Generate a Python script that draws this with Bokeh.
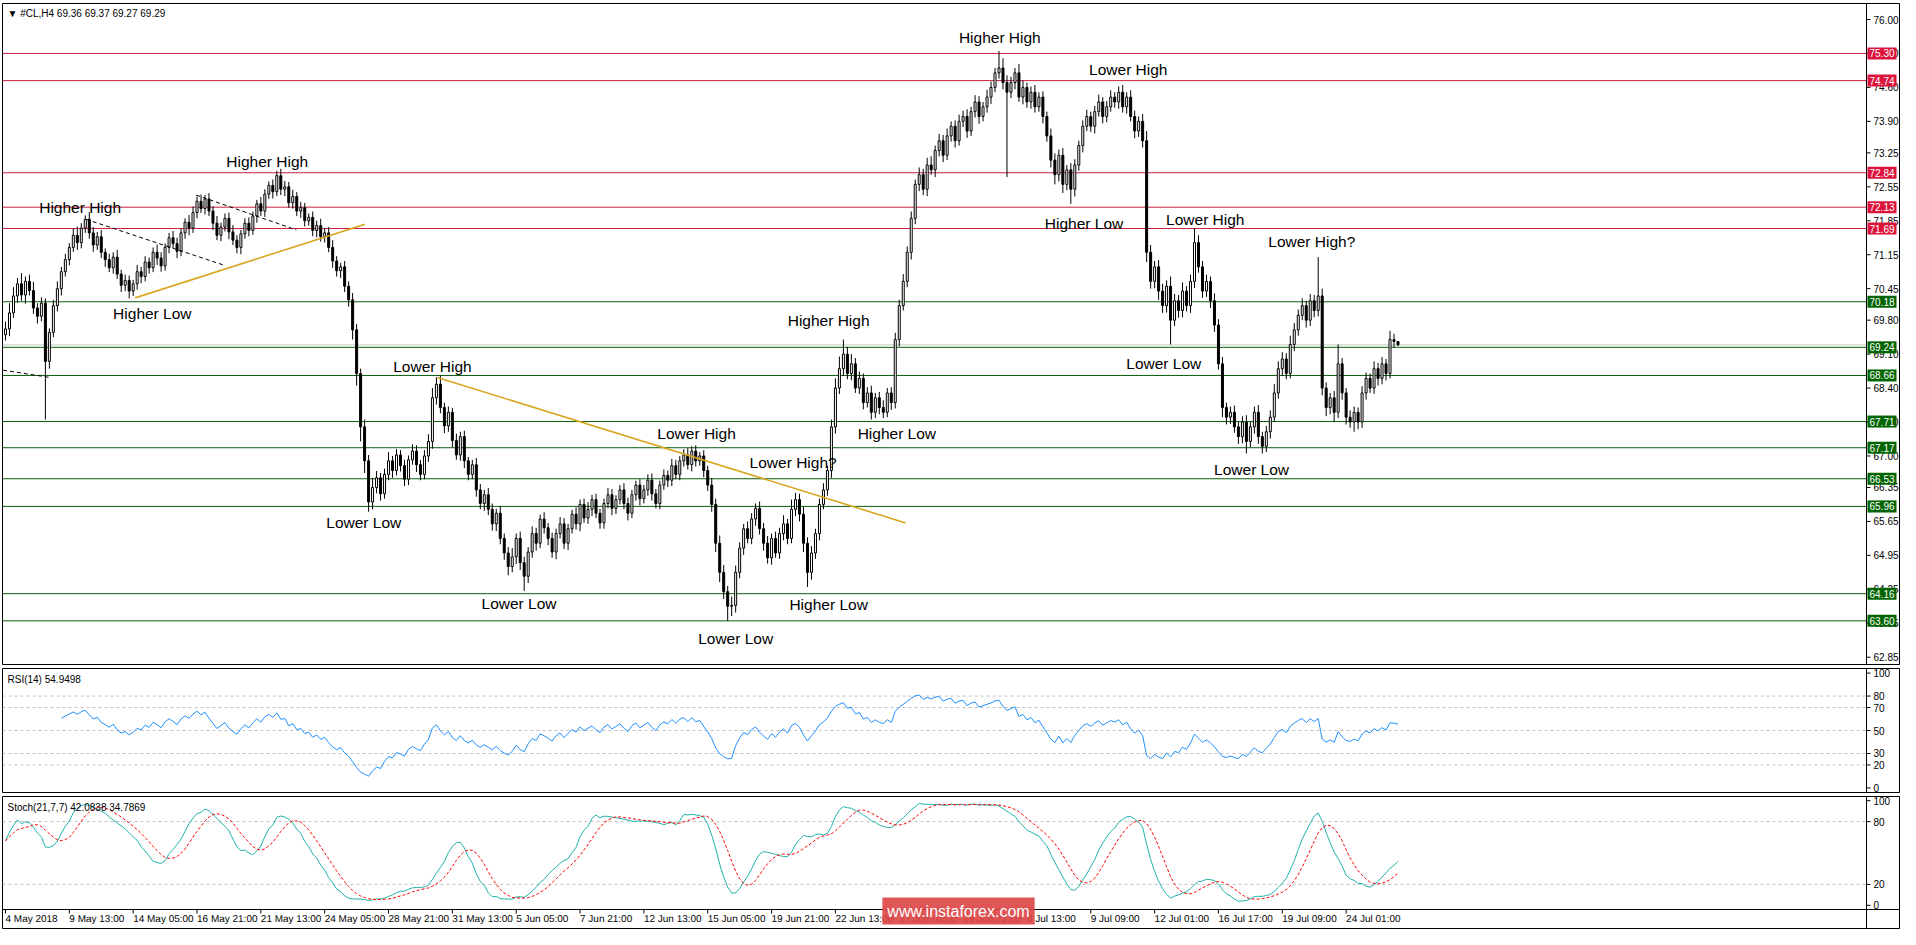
import numpy as np
import pandas as pd
from bokeh.plotting import figure
from bokeh.layouts import column
from bokeh.models import (ColumnDataSource, Label, FixedTicker, Range1d, Span,
                          NumeralTickFormatter)
from bokeh.core.properties import value
from bokeh.embed import file_html
from bokeh.resources import INLINE

# ---------------- data ----------------
first_open = 69.50
close = [
    69.62, 69.95, 70.30, 70.55, 70.32, 70.60, 70.41, 70.05, 69.88, 70.15,
    68.95, 69.55, 70.10, 70.45, 70.80, 71.05, 71.30, 71.55, 71.40, 71.70,
    71.88, 71.60, 71.35, 71.52, 71.20, 71.05, 70.88, 71.10, 70.75, 70.52,
    70.62, 70.40, 70.55, 70.80, 70.70, 71.00, 70.88, 71.20, 71.08, 70.92,
    71.30, 71.50, 71.38, 71.22, 71.60, 71.82, 71.70, 72.02, 72.25, 72.10,
    72.30, 72.05, 71.80, 71.55, 71.72, 71.90, 71.62, 71.45, 71.30, 71.58,
    71.80, 71.65, 71.95, 72.20, 72.05, 72.40, 72.58, 72.45, 72.78, 72.50,
    72.55, 72.22, 72.35, 72.05, 72.12, 71.85, 71.92, 71.65, 71.75, 71.52,
    71.60, 71.30, 71.02, 70.82, 70.90, 70.50, 70.22, 69.60, 68.70, 67.60,
    66.90, 66.05, 66.35, 66.55, 66.22, 66.62, 66.90, 66.70, 67.02, 66.80,
    66.52, 66.92, 67.10, 66.82, 66.62, 67.00, 67.30, 68.20, 68.48, 68.00,
    67.62, 67.90, 67.32, 67.02, 67.40, 66.90, 66.62, 66.82, 66.30, 66.02,
    66.20, 65.90, 65.60, 65.82, 65.30, 65.00, 64.72, 64.92, 65.30, 64.80,
    64.52, 65.02, 65.40, 65.20, 65.70, 65.52, 65.30, 65.02, 65.40, 65.60,
    65.20, 65.50, 65.80, 65.60, 66.00, 65.72, 65.90, 66.10, 65.82, 65.62,
    66.02, 66.20, 65.92, 66.10, 66.30, 66.02, 65.82, 66.20, 66.40, 66.12,
    66.30, 66.50, 66.22, 66.02, 66.40, 66.60, 66.50, 66.80, 66.62, 66.90,
    67.02, 66.82, 67.10, 66.90, 67.00, 66.70, 66.40, 66.00, 65.20, 64.60,
    64.20, 63.90, 63.92, 64.60, 65.10, 65.50, 65.30, 65.70, 65.92, 65.50,
    65.20, 64.90, 65.30, 65.00, 65.40, 65.60, 65.30, 65.90, 66.10, 65.80,
    65.20, 64.60, 65.00, 65.40, 66.00, 66.30, 66.70, 67.60, 68.40, 68.80,
    69.10, 68.70, 68.90, 68.40, 68.60, 68.10, 68.30, 67.90, 68.20, 68.00,
    67.90, 68.30, 68.10, 69.40, 70.10, 70.60, 71.20, 71.90, 72.60, 72.80,
    72.50, 73.00, 72.90, 73.30, 73.50, 73.20, 73.60, 73.80, 73.50, 73.90,
    74.00, 73.70, 74.10, 74.30, 74.00, 74.20, 74.40, 74.60, 74.90, 75.00,
    74.70, 74.50, 74.70, 74.90, 74.40, 74.60, 74.30, 74.50, 74.20, 74.40,
    74.00, 73.60, 73.10, 72.80, 73.20, 72.60, 72.90, 72.50, 73.00, 73.40,
    73.80, 74.00, 73.80, 74.10, 74.30, 74.00, 74.20, 74.40, 74.30, 74.50,
    74.20, 74.40, 74.00, 73.70, 73.90, 73.50, 71.20, 70.60, 70.90, 70.40,
    70.10, 70.50, 69.80, 70.20, 70.00, 70.40, 70.10, 70.60, 71.40, 70.90,
    70.40, 70.60, 70.20, 69.70, 68.90, 68.00, 67.80, 67.90, 67.60, 67.40,
    67.70, 67.30, 67.60, 67.90, 67.40, 67.20, 67.50, 67.80, 68.30, 68.80,
    69.00, 68.70, 69.30, 69.60, 69.90, 70.10, 69.80, 70.20, 70.00, 70.30,
    68.40, 68.00, 68.20, 67.90, 68.90, 68.30, 67.80, 67.70, 67.90, 67.70,
    68.30, 68.60, 68.40, 68.80, 68.60, 68.90, 68.70, 69.40, 69.36, 69.29,
]
# upper / lower wick lengths, in cents
wick_up = [
    15, 20, 18, 12, 22, 10, 14, 18, 10, 12,
    10, 8, 12, 15, 10, 12, 9, 14, 18, 10,
    8, 15, 12, 10, 14, 8, 12, 10, 15, 9,
    12, 10, 8, 14, 10, 12, 9, 10, 16, 12,
    8, 10, 14, 12, 9, 8, 15, 12, 10, 14,
    8, 12, 10, 15, 9, 10, 12, 14, 10, 8,
    10, 12, 9, 8, 14, 10, 8, 12, 10, 14,
    12, 10, 14, 9, 12, 10, 8, 12, 10, 14,
    10, 12, 15, 10, 8, 12, 10, 14, 12, 10,
    15, 12, 20, 14, 10, 12, 18, 10, 12, 10,
    12, 9, 14, 12, 10, 12, 15, 20, 14, 18,
    10, 12, 9, 14, 10, 12, 8, 10, 14, 12,
    10, 14, 12, 9, 15, 10, 12, 18, 10, 14,
    12, 10, 15, 12, 9, 14, 10, 12, 10, 14,
    12, 10, 9, 14, 10, 12, 15, 10, 12, 9,
    10, 14, 12, 9, 10, 14, 12, 10, 9, 12,
    10, 12, 14, 10, 9, 12, 10, 14, 12, 10,
    12, 14, 10, 12, 8, 12, 10, 14, 12, 16,
    15, 12, 18, 14, 12, 10, 15, 12, 10, 14,
    12, 15, 10, 14, 12, 18, 10, 20, 14, 12,
    15, 12, 14, 10, 12, 14, 10, 15, 20, 25,
    30, 15, 20, 12, 14, 10, 12, 15, 10, 12,
    15, 10, 12, 14, 12, 15, 12, 14, 10, 15,
    12, 15, 18, 10, 14, 12, 15, 10, 12, 14,
    12, 15, 10, 14, 12, 10, 15, 12, 10, 35,
    20, 15, 12, 10, 18, 14, 10, 12, 15, 10,
    12, 10, 15, 14, 12, 15, 10, 14, 12, 10,
    12, 14, 10, 12, 15, 10, 12, 14, 10, 12,
    15, 10, 14, 12, 10, 15, 20, 15, 12, 14,
    15, 12, 20, 14, 12, 18, 10, 14, 30, 15,
    12, 14, 10, 15, 12, 14, 10, 12, 14, 10,
    12, 14, 10, 12, 15, 10, 12, 14, 18, 15,
    14, 12, 18, 14, 12, 15, 10, 14, 12, 80,
    15, 12, 10, 14, 40, 12, 10, 14, 12, 10,
    14, 12, 10, 15, 12, 14, 10, 18, 12, 1,
]
wick_dn = [
    12, 15, 10, 14, 12, 18, 10, 12, 15, 10,
    120, 15, 10, 12, 14, 10, 12, 9, 15, 12,
    10, 12, 14, 10, 12, 15, 9, 12, 10, 14,
    12, 15, 10, 12, 14, 10, 12, 9, 14, 12,
    10, 12, 9, 14, 10, 12, 15, 10, 12, 9,
    12, 10, 14, 10, 12, 9, 15, 10, 12, 14,
    10, 12, 9, 14, 10, 12, 10, 14, 9, 12,
    14, 10, 12, 10, 14, 12, 10, 12, 14, 10,
    12, 10, 14, 12, 15, 12, 14, 20, 25, 30,
    25, 20, 15, 12, 14, 10, 12, 15, 10, 12,
    14, 12, 10, 15, 12, 10, 12, 15, 14, 12,
    15, 12, 14, 10, 12, 15, 12, 10, 14, 12,
    15, 12, 14, 15, 12, 14, 18, 12, 15, 15,
    30, 14, 12, 15, 10, 12, 14, 12, 15, 10,
    12, 14, 10, 12, 15, 10, 12, 14, 10, 12,
    12, 10, 14, 12, 10, 12, 15, 10, 12, 14,
    10, 12, 14, 10, 12, 10, 14, 12, 10, 12,
    12, 10, 14, 12, 10, 14, 12, 15, 18, 20,
    15, 30, 20, 15, 12, 14, 10, 12, 14, 12,
    15, 12, 14, 10, 12, 14, 12, 10, 14, 15,
    18, 30, 15, 12, 14, 10, 12, 15, 14, 12,
    15, 12, 14, 10, 12, 14, 10, 15, 12, 14,
    12, 10, 15, 12, 14, 10, 12, 15, 12, 14,
    12, 14, 10, 15, 12, 14, 10, 12, 14, 10,
    12, 14, 10, 12, 15, 10, 12, 14, 10, 12,
    14, 175, 12, 14, 10, 15, 12, 14, 12, 10,
    14, 12, 15, 20, 14, 18, 12, 30, 15, 12,
    14, 10, 12, 15, 10, 14, 12, 10, 12, 14,
    12, 14, 10, 15, 12, 14, 20, 15, 14, 18,
    15, 14, 50, 12, 15, 14, 12, 15, 14, 12,
    14, 12, 15, 14, 12, 20, 15, 14, 12, 15,
    14, 25, 12, 14, 15, 15, 12, 14, 10, 12,
    14, 12, 10, 14, 12, 10, 15, 12, 14, 12,
    15, 18, 14, 20, 12, 14, 15, 12, 20, 15,
    12, 14, 10, 12, 15, 12, 14, 10, 12, 2,
]

time_labels = ["4 May 2018", "9 May 13:00", "14 May 05:00", "16 May 21:00",
               "21 May 13:00", "24 May 05:00", "28 May 21:00", "31 May 13:00",
               "5 Jun 05:00", "7 Jun 21:00", "12 Jun 13:00", "15 Jun 05:00",
               "19 Jun 21:00", "22 Jun 13:00", "27 Jun 05:00", "29 Jun 21:00",
               "4 Jul 13:00", "9 Jul 09:00", "12 Jul 01:00", "16 Jul 17:00",
               "19 Jul 09:00", "24 Jul 01:00"]
label_every = 16

price_ticks = [76.00, 75.30, 74.60, 73.90, 73.25, 72.55, 71.85, 71.15, 70.45,
               69.80, 69.10, 68.40, 67.70, 67.00, 66.35, 65.65, 64.95, 64.25,
               63.55, 62.85]
red_levels = [75.30, 74.74, 72.84, 72.13, 71.69]
green_levels = [70.18, 69.24, 68.66, 67.71, 67.17, 66.53, 65.96, 64.16, 63.60]
bid_price = 69.29

ann_text = ["Higher High", "Lower High", "Higher High", "Higher High",
            "Higher Low", "Lower High", "Lower High?", "Higher Low",
            "Higher High", "Lower Low", "Lower High", "Higher Low",
            "Lower High", "Lower High?", "Lower Low", "Lower Low",
            "Lower Low", "Higher Low", "Lower Low"]
ann_bar = [249.2, 281.4, 65.6, 18.7, 270.3, 300.7, 327.4, 36.8, 206.3, 290.3,
           107.0, 223.4, 173.2, 197.4, 312.3, 89.8, 128.7, 206.3, 183.0]
ann_price = [75.62, 74.96, 73.07, 72.13, 71.79, 71.88, 71.42, 69.94, 69.80,
             68.91, 68.84, 67.46, 67.46, 66.87, 66.73, 65.62, 63.95, 63.93,
             63.24]

trend_bar0 = [32.5, 108.2]
trend_price0 = [70.26, 68.62]
trend_bar1 = [90.1, 225.6]
trend_price1 = [71.78, 65.62]
dash_bar0 = [20.2, 47.8, -0.6]
dash_price0 = [71.88, 72.38, 68.77]
dash_bar1 = [54.9, 72.9, 11.0]
dash_price1 = [70.93, 71.66, 68.62]

rsi_ticks = [0, 20, 30, 50, 70, 80, 100]
rsi_levels = [80, 70, 50, 30, 20]
stoch_ticks = [0, 20, 80, 100]
stoch_levels = [80, 20]

# ---------------- derived series ----------------
n = len(close)
xs = list(range(n))
opens = [first_open] + close[:-1]
highs = [max(o, c) + u / 100 for o, c, u in zip(opens, close, wick_up)]
lows = [min(o, c) - d / 100 for o, c, d in zip(opens, close, wick_dn)]

cs = pd.Series(close, dtype=float)
delta = cs.diff()
gain = delta.clip(lower=0)
loss = (-delta).clip(lower=0)
period = 14
ag = np.full(n, np.nan)
al = np.full(n, np.nan)
ag[period] = gain.iloc[1:period + 1].mean()
al[period] = loss.iloc[1:period + 1].mean()
for i in range(period + 1, n):
    ag[i] = (ag[i - 1] * (period - 1) + gain.iloc[i]) / period
    al[i] = (al[i - 1] * (period - 1) + loss.iloc[i]) / period
rsi = 100 - 100 / (1 + ag / al)

hs = pd.Series(highs)
ls = pd.Series(lows)
hh = hs.rolling(21, min_periods=1).max()
ll = ls.rolling(21, min_periods=1).min()
num = (cs - ll).rolling(7, min_periods=1).sum()
den = (hh - ll).rolling(7, min_periods=1).sum()
stk = 100 * num / den
std = stk.rolling(7, min_periods=1).mean()

# ---------------- layout constants ----------------
FW = 1898                 # frame holds chart + price-scale column
PX = 3.99                 # pixels per bar
X0 = -0.75
AXIS_PX = 1864            # price scale line, px from frame left
AXIS_X = X0 + AXIS_PX / PX
LABEL_GAP = 7             # px from scale line to label start
FONT = "Liberation Sans"

src = ColumnDataSource(dict(
    x=xs, high=highs, low=lows,
    top=[max(o, c) for o, c in zip(opens, close)],
    bottom=[min(o, c) for o, c in zip(opens, close)],
    fill=["white" if c >= o else "black" for o, c in zip(opens, close)],
))

x_range = Range1d(X0, X0 + FW / PX)


def base_fig(fh, yr, top, bottom, xaxis):
    f = figure(frame_width=FW, frame_height=fh, x_range=x_range, y_range=yr,
               x_axis_location=("below" if xaxis else None),
               y_axis_location="right", toolbar_location=None,
               output_backend="svg", min_border_left=2, min_border_right=0,
               min_border_top=top, min_border_bottom=bottom)
    f.xgrid.visible = False
    f.ygrid.visible = False
    f.outline_line_color = "black"
    f.outline_line_width = 1
    f.outline_line_alpha = 1
    f.background_fill_color = "white"
    f.border_fill_color = "white"
    return f


def price_scale(f, ticks, label_w, fmt=None):
    # real axis whose labels sit in the price-scale column inside the frame
    ax = f.yaxis[0]
    ax.fixed_location = X0 + (AXIS_PX + LABEL_GAP + label_w) / PX
    ax.major_label_standoff = -label_w
    ax.ticker = FixedTicker(ticks=ticks)
    if fmt is not None:
        ax.formatter = fmt
    ax.axis_line_color = None
    ax.major_tick_line_color = None
    ax.major_tick_out = 0
    ax.major_tick_in = 0
    ax.minor_tick_line_color = None
    ax.major_label_text_font = FONT
    ax.major_label_text_font_size = "10px"
    ax.major_label_text_color = "black"
    f.add_layout(Span(location=AXIS_X, dimension="height", line_color="black",
                      line_width=1))
    f.segment(x0=[AXIS_X] * len(ticks), y0=ticks,
              x1=[AXIS_X + 4 / PX] * len(ticks), y1=ticks,
              line_color="black", line_width=1)


def hlines(f, levels, color, dash="solid"):
    f.segment(x0=[X0] * len(levels), y0=levels, x1=[AXIS_X] * len(levels),
              y1=levels, line_color=color, line_width=1, line_dash=dash)


def price_box(f, lv, color):
    f.add_layout(Label(x=AXIS_X, y=lv, x_offset=1, text=f"{lv:.2f}",
                       text_color="white", text_font=FONT,
                       text_font_size="10px", text_baseline="middle",
                       text_align="left", background_fill_color=color,
                       background_fill_alpha=1.0, padding=2))


# ---------------- main price panel ----------------
MFH = 661
p = base_fig(MFH, Range1d(62.70, 76.33), 3, 2, False)
price_scale(p, price_ticks, 25, NumeralTickFormatter(format="0.00"))

hlines(p, red_levels, "#C8203F")
hlines(p, green_levels, "#0B5E0B")
hlines(p, [bid_price], "#BFCBBF")

p.segment(x0="x", y0="low", x1="x", y1="high", source=src, line_color="black",
          line_width=1)
p.vbar(x="x", width=0.5, top="top", bottom="bottom", source=src,
       fill_color="fill", line_color="black", line_width=1)

p.segment(x0=trend_bar0, y0=trend_price0, x1=trend_bar1, y1=trend_price1,
          line_color="#DAA520", line_width=1.6)
p.segment(x0=dash_bar0, y0=dash_price0, x1=dash_bar1, y1=dash_price1,
          line_color="black", line_width=1, line_dash="4 3")

ann_src = ColumnDataSource(dict(x=ann_bar, y=ann_price, t=ann_text))
p.text(x="x", y="y", text="t", source=ann_src, text_font=value(FONT),
       text_font_size=value("15.5px"), text_color="black",
       text_align="center", text_baseline="middle")

for lv in red_levels:
    price_box(p, lv, "#DC143C")
for lv in green_levels:
    price_box(p, lv, "#006400")

p.add_layout(Label(x=5, y=MFH - 10, x_units="screen", y_units="screen",
                   text="\u25BC #CL,H4  69.36 69.37 69.27 69.29",
                   text_font=FONT, text_font_size="10px", text_color="black",
                   text_baseline="middle"))

# ---------------- RSI panel ----------------
RFH = 124
r = base_fig(RFH, Range1d(-4, 104), 2, 2, False)
price_scale(r, rsi_ticks, 17)
hlines(r, rsi_levels, "#C0C0C0", "3 3")
r.line(xs, rsi, line_color="#1E90FF", line_width=1)
r.add_layout(Label(x=5, y=RFH - 11, x_units="screen", y_units="screen",
                   text="RSI(14) 54.9498", text_font=FONT,
                   text_font_size="10px", text_color="black",
                   text_baseline="middle"))

# ---------------- Stochastic panel (frame also holds the time scale) -------
SFH_PLOT = 113
SFH_AXIS = 19
S_LO, S_HI = -4.0, 104.0
s_per_px = (S_HI - S_LO) / SFH_PLOT
S_BOT = S_LO - SFH_AXIS * s_per_px
s = base_fig(SFH_PLOT + SFH_AXIS, Range1d(S_BOT, S_HI), 2, 1, True)
price_scale(s, stoch_ticks, 17)
hlines(s, stoch_levels, "#C0C0C0", "3 3")
s.line(xs, stk.values, line_color="#20B2AA", line_width=1)
s.line(xs, std.values, line_color="#FF0000", line_width=1, line_dash="3 2")
s.add_layout(Label(x=5, y=SFH_PLOT + SFH_AXIS - 11, x_units="screen",
                   y_units="screen", text="Stoch(21,7,7) 42.0838 34.7869",
                   text_font=FONT, text_font_size="10px", text_color="black",
                   text_baseline="middle"))
s.add_layout(Span(location=S_LO, dimension="width", line_color="black",
                  line_width=1))

tick_bars = [k * label_every for k in range(len(time_labels))]
xa = s.xaxis[0]
xa.fixed_location = S_BOT
xa.ticker = FixedTicker(ticks=tick_bars)
xa.major_label_overrides = {tb: lab for tb, lab in zip(tick_bars, time_labels)}
xa.major_label_orientation = -0.0005
xa.major_label_text_font = FONT
xa.major_label_text_font_size = "10px"
xa.major_label_text_color = "black"
xa.major_tick_out = 0
xa.major_tick_in = 0
xa.major_tick_line_color = None
xa.minor_tick_line_color = None
xa.axis_line_color = None
xa.major_label_standoff = -(SFH_AXIS - 9)
s.segment(x0=tick_bars, y0=[S_LO] * len(tick_bars), x1=tick_bars,
          y1=[S_LO - 4 * s_per_px] * len(tick_bars), line_color="black",
          line_width=1)

s.add_layout(Label(x=956, y=SFH_AXIS - 1.5, x_units="screen",
                   y_units="screen", text="www.instaforex.com",
                   text_font=FONT, text_font_size="16px", text_color="white",
                   text_align="center", text_baseline="middle",
                   background_fill_color="#DD4646",
                   background_fill_alpha=0.92, padding=5))

layout = column(p, r, s, spacing=0)
open("out.html", "w").write(file_html(layout, INLINE))
